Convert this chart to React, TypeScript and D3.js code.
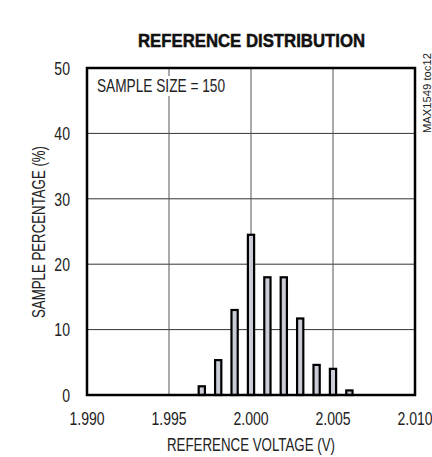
import React from "react";
import * as d3 from "d3";

const binCenters = [1.997, 1.998, 1.999, 2.0, 2.001, 2.002, 2.003, 2.004, 2.005, 2.006];
const percentages = [1.33, 5.33, 13.0, 24.5, 18.0, 18.0, 11.7, 4.6, 4.0, 0.7];
const xTicks = [1.99, 1.995, 2.0, 2.005, 2.01];
const yTicks = [0, 10, 20, 30, 40, 50];

const W = 432;
const H = 457;
const M = { left: 87, right: 17, top: 68, bottom: 62 };
const FONT = "'Liberation Sans', Arial, sans-serif";
const SX = 0.76;

function NText(props: {
  x: number;
  y: number;
  anchor?: string;
  size?: number;
  rotate?: number;
  weight?: string;
  children: React.ReactNode;
}) {
  const { x, y, anchor = "start", size = 18.5, rotate = 0, weight = "normal", children } = props;
  return (
    <text
      transform={`translate(${x},${y}) rotate(${rotate}) scale(${SX},1)`}
      textAnchor={anchor}
      fontSize={size}
      fontWeight={weight}
      fill="#222"
    >
      {children}
    </text>
  );
}

export default function App() {
  const x = d3.scaleLinear().domain([1.99, 2.01]).range([M.left, W - M.right]);
  const y = d3.scaleLinear().domain([0, 50]).range([H - M.bottom, M.top]);
  const barW = x(2.00038) - x(2.0);
  const x0 = M.left, x1 = W - M.right, y0 = H - M.bottom, y1 = M.top;

  return (
    <svg
      width={W}
      height={H}
      style={{ position: "absolute", left: 0, top: 0, background: "#fff" }}
      fontFamily={FONT}
    >
      <text
        x={251.5}
        y={47}
        textAnchor="middle"
        fontSize={17.7}
        fontWeight="900"
        fill="#111"
        textLength={227}
        lengthAdjust="spacingAndGlyphs"
        stroke="#111"
        strokeWidth={0.5}
      >
        REFERENCE DISTRIBUTION
      </text>
      {/* grid */}
      {yTicks.slice(1, -1).map((t) => (
        <line key={"gy" + t} x1={x0} x2={x1} y1={y(t)} y2={y(t)} stroke="#333" strokeWidth={1} />
      ))}
      {xTicks.slice(1, -1).map((t) => (
        <line key={"gx" + t} x1={x(t)} x2={x(t)} y1={y0} y2={y1} stroke="#555" strokeWidth={1} />
      ))}
      {/* annotation background */}
      <rect x={93} y={76} width={136} height={20} fill="#fff" />
      {/* bars */}
      {binCenters.map((c, i) => (
        <rect
          key={"b" + i}
          x={x(c) - barW / 2}
          y={y(percentages[i])}
          width={barW}
          height={y(0) - y(percentages[i])}
          fill="#c9ccd6"
          stroke="#000"
          strokeWidth={2.2}
        />
      ))}
      {/* border */}
      <rect x={x0} y={y1} width={x1 - x0} height={y0 - y1} fill="none" stroke="#000" strokeWidth={2.5} />
      <text
        x={97}
        y={92}
        fontSize={17.5}
        fill="#222"
        textLength={128}
        lengthAdjust="spacingAndGlyphs"
      >
        SAMPLE SIZE = 150
      </text>
      <text
        transform={`translate(431,${53}) rotate(-90)`}
        textAnchor="end"
        fontSize={11}
        fill="#222"
        textLength={80}
        lengthAdjust="spacingAndGlyphs"
      >
        MAX1549 toc12
      </text>
      {/* y ticks */}
      {yTicks.map((t) => (
        <NText key={"yt" + t} x={70} y={y(t) + 6.7} anchor="end">
          {t}
        </NText>
      ))}
      {xTicks.map((t) => (
        <NText key={"xt" + t} x={x(t)} y={425} anchor="middle">
          {d3.format(".3f")(t)}
        </NText>
      ))}
      <text
        x={251}
        y={451}
        textAnchor="middle"
        fontSize={18.5}
        fill="#222"
        textLength={168}
        lengthAdjust="spacingAndGlyphs"
      >
        REFERENCE VOLTAGE (V)
      </text>
      <text
        transform={`translate(45,${232}) rotate(-90)`}
        textAnchor="middle"
        fontSize={18.5}
        fill="#222"
        textLength={172}
        lengthAdjust="spacingAndGlyphs"
      >
        SAMPLE PERCENTAGE (%)
      </text>
    </svg>
  );
}
